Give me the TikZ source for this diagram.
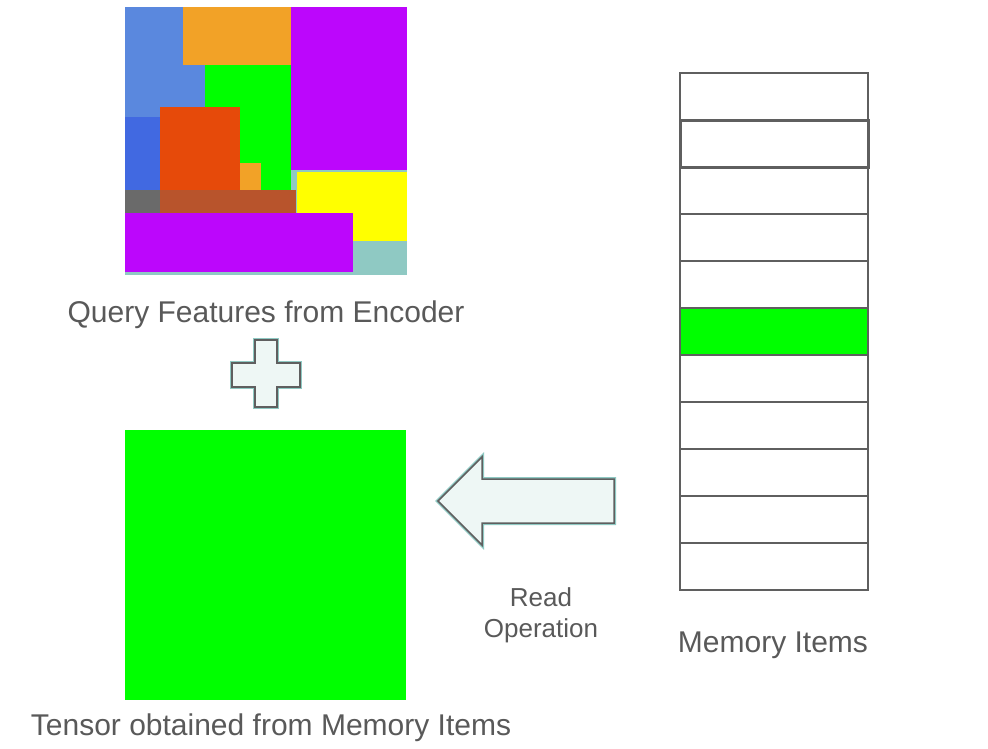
\documentclass[tikz,border=0pt]{standalone}
\usepackage{fontspec}
\setmainfont{Liberation Sans}
\definecolor{txt}{HTML}{595959}
\definecolor{edge}{HTML}{5F5F5F}
\definecolor{halo}{HTML}{8FC9C3}
\definecolor{paleFill}{HTML}{EEF7F5}
\definecolor{mTeal}{HTML}{8FC9C3}
\definecolor{mLightBlue}{HTML}{5A88DE}
\definecolor{mBlue}{HTML}{4169E1}
\definecolor{mChecker}{HTML}{F2A227}
\definecolor{mPurple}{HTML}{BC06FC}
\definecolor{mGreen}{HTML}{00FF00}
\definecolor{mRed}{HTML}{E64A0A}
\definecolor{mBrown}{HTML}{B8542C}
\definecolor{mGray}{HTML}{6A6A6A}
\definecolor{mYellow}{HTML}{FFFF00}
\tikzset{
  lbl/.style={text=txt, font=\fontsize{30}{36}\selectfont, anchor=base, inner sep=0pt},
  smalllbl/.style={text=txt, font=\fontsize{26}{31}\selectfont, anchor=base, inner sep=0pt},
  shapeline/.style={draw=edge, line width=1.5pt, fill=paleFill, line join=miter,
    preaction={draw=halo, line width=4pt}},
  memrow/.style={draw=edge, line width=1.5pt, fill=white, minimum width=188pt,
    minimum height=47pt, inner sep=0pt, anchor=north west, outer sep=0pt},
}
\begin{document}
\begin{tikzpicture}[x=1pt,y=-1pt]
\useasboundingbox (0,0) rectangle (988,748);
% query feature mosaic
\fill[mTeal] (125,7) rectangle (407,275);
\fill[mLightBlue] (125,7) rectangle (205,117);
\fill[mBlue] (125,117) rectangle (160,190);
\fill[mChecker] (183,7) rectangle (291,65);
\fill[mPurple] (291,7) rectangle (407,170);
\fill[mGreen] (205,65) rectangle (291,190);
\fill[mRed] (160,107) rectangle (240,190);
\fill[mChecker] (240,163) rectangle (261,190);
\fill[mGray] (125,190) rectangle (160,213);
\fill[mBrown] (160,190) rectangle (296,213);
\fill[mYellow] (297,172) rectangle (407,241);
\fill[mPurple] (125,213) rectangle (353,272);
\node[lbl] (query) at (266,322) {Query Features from Encoder};
% plus sign
\draw[shapeline] (255,340) -- (277,340) -- (277,363) -- (300,363) -- (300,387)
  -- (277,387) -- (277,407) -- (255,407) -- (255,387) -- (232,387) -- (232,363)
  -- (255,363) -- cycle;
% tensor from memory
\fill[mGreen] (125,430) rectangle (406,700);
\node[lbl] (tensor) at (271,735) {Tensor obtained from Memory Items};
% read arrow
\draw[shapeline] (438,501) -- (482,457) -- (482,479) -- (614,479) -- (614,523)
  -- (482,523) -- (482,545) -- cycle;
\node[smalllbl] (read) at (541,606) {Read};
\node[smalllbl] (oper) at (541,637) {Operation};
% memory items
\foreach \i in {0,...,10} {
  \node[memrow] (m\i) at (680,{73+47*\i}) {};
}
\node[memrow, line width=3pt] at (680,120) {};
\node[memrow, fill=mGreen] at (680,308) {};
\node[lbl] (memlbl) at (773,652) {Memory Items};
\end{tikzpicture}
\end{document}
